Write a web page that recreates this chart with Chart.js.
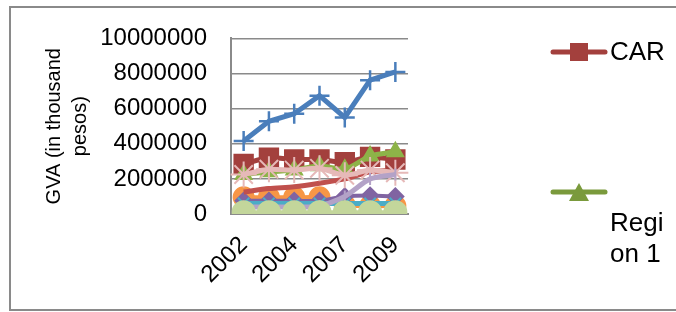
<!DOCTYPE html>
<html lang="en">
<head>
<meta charset="UTF-8">
<title>GVA by region</title>
<script src="https://cdn.jsdelivr.net/npm/chart.js@4.4.1/dist/chart.umd.min.js"></script>
<style>
    * { margin: 0; padding: 0; box-sizing: border-box; }
    body { background: #fff; width: 676px; height: 312px; overflow: hidden; }
    .frame {
        position: absolute; left: 9px; top: 6px; width: 700px; height: 305px;
        border: 2px solid #8a8a8a;
    }
    .chart-box { position: absolute; left: 0; top: 0; width: 676px; height: 312px; }
</style>
</head>
<body>
<div class="frame"></div>
<div class="chart-box"><canvas id="gvaChart"></canvas></div>
<script>
// years on the x axis (every other one is labelled)
const years = ['2002', '2003', '2004', '2006', '2007', '2008', '2009'];
const yTicks = [0, 2000000, 4000000, 6000000, 8000000, 10000000];

// GVA in thousand pesos
const ncr      = [4160000, 5280000, 5710000, 6740000, 5500000, 7620000, 8090000];
const car      = [2850000, 3200000, 3100000, 3100000, 2950000, 3250000, 3100000];
const region1  = [2250000, 2400000, 2500000, 2750000, 2550000, 3300000, 3550000];
const region2  = [2250000, 2550000, 2500000, 2600000, 2200000, 2500000, 2350000];
const region3  = [1250000, 1450000, 1550000, 1750000, 2000000, 2400000, 2500000];
const region4  = [950000, 950000, 950000, 950000, 500000, 450000, 450000];
const region5  = [750000, 750000, 750000, 750000, 1000000, 1050000, 1000000];
const region6  = [600000, 600000, 600000, 600000, 600000, 600000, 600000];
const region7  = [400000, 400000, 400000, 450000, 1000000, 2000000, 2250000];
const region8  = [100000, 100000, 100000, 100000, 100000, 100000, 100000];

// custom legend like the original (only two entries fit)
const legendPlugin = {
    id: 'sideLegend',
    afterDraw(chart) {
        const ctx = chart.ctx;
        ctx.save();
        ctx.lineCap = 'round';
        // CAR
        ctx.strokeStyle = '#a3403d';
        ctx.lineWidth = 5;
        ctx.beginPath(); ctx.moveTo(553, 52); ctx.lineTo(605, 52); ctx.stroke();
        ctx.fillStyle = '#a3403d';
        ctx.fillRect(570, 43, 18, 18);
        // Region 1
        ctx.strokeStyle = '#7a9a3c';
        ctx.beginPath(); ctx.moveTo(553, 192); ctx.lineTo(605, 192); ctx.stroke();
        ctx.fillStyle = '#7a9a3c';
        ctx.beginPath(); ctx.moveTo(579, 183); ctx.lineTo(589, 201); ctx.lineTo(569, 201); ctx.closePath(); ctx.fill();

        ctx.fillStyle = '#000';
        ctx.font = '26px "Liberation Sans", Arial, sans-serif';
        ctx.textBaseline = 'middle';
        ctx.textAlign = 'left';
        ctx.fillText('CAR', 610, 53);
        ctx.fillText('Regi', 610, 224);
        ctx.fillText('on 1', 610, 255);
        ctx.restore();
    }
};

function series(label, data, color, style, radius, width, extra) {
    return Object.assign({
        label: label,
        data: data,
        borderColor: color,
        backgroundColor: color,
        pointBackgroundColor: color,
        pointBorderColor: color,
        borderWidth: width,
        pointStyle: style,
        pointRadius: radius,
        pointBorderWidth: 2,
        tension: 0.25
    }, extra || {});
}

new Chart(document.getElementById('gvaChart'), {
    type: 'line',
    data: {
        labels: years,
        datasets: [
            series('NCR', ncr, '#4a7ebb', 'cross', 10, 5, {pointBorderWidth: 2.5, tension: 0}),
            series('Region 8', region8, '#c3d69b', 'circle', 11, 4),
            series('Region 7', region7, '#b3a2c7', 'line', 6, 5, {pointRotation: 90}),
            series('Region 2', region2, '#e6b9b8', 'star', 13, 5),
            series('Region 1', region1, '#8db348', 'triangle', 9, 5),
            series('CAR', car, '#a3403d', 'rect', 13, 5),
            series('Region 3', region3, '#c0504d', 'circle', 0, 5),
            series('Region 6', region6, '#4bacc6', 'crossRot', 8, 5),
            series('Region 5', region5, '#8064a2', 'rectRot', 8, 4),
            series('Region 4', region4, '#f79646', 'circle', 10, 4)
        ]
    },
    options: {
        responsive: true,
        maintainAspectRatio: false,
        animation: false,
        layout: { padding: { top: 36, right: 268, left: 0, bottom: 0 } },
        plugins: {
            legend: { display: false },
            tooltip: { enabled: false }
        },
        scales: {
            x: {
                offset: true,
                grid: { display: false },
                border: { display: true, color: '#8a8a8a', width: 2 },
                ticks: {
                    autoSkip: false,
                    maxRotation: 45,
                    minRotation: 45,
                    padding: 9,
                    color: '#000',
                    font: { family: '"Liberation Sans", Arial', size: 24 },
                    callback: function (v, i) { return i % 2 === 0 ? years[i] : ''; }
                },
                afterFit: function (axis) { axis.height = 98; }
            },
            y: {
                min: 0,
                max: 10000000,
                afterBuildTicks: function (axis) { axis.ticks = yTicks.map(v => ({ value: v })); },
                grid: { color: '#8a8a8a', lineWidth: 1.5, tickLength: 6, drawTicks: false },
                border: { display: true, color: '#8a8a8a', width: 2 },
                ticks: {
                    padding: 24,
                    color: '#000',
                    font: { family: '"Liberation Sans", Arial', size: 24 },
                    callback: function (v) { return String(v); }
                },
                title: {
                    display: true,
                    text: ['GVA (in thousand', 'pesos)'],
                    color: '#000',
                    padding: { top: 42, bottom: 0 },
                    font: { family: '"Liberation Sans", Arial', size: 20, lineHeight: 1.28 }
                },
                afterFit: function (axis) { axis.width = 231; }
            }
        }
    },
    plugins: [legendPlugin]
});
</script>
</body>
</html>
